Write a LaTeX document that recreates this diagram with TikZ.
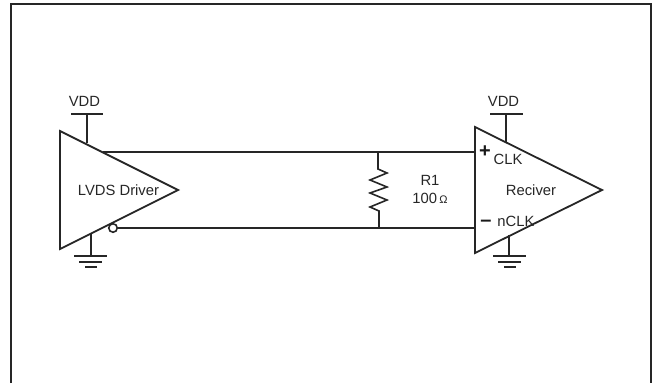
\documentclass[tikz,border=0pt]{standalone}
\usepackage{fontspec}
\setmainfont{Liberation Sans}
\tikzset{
  wire/.style={line width=1.8pt,draw=black!85,line join=miter},
  thin wire/.style={line width=1.6pt,draw=black!85},
  lbl/.style={inner sep=0pt,font=\fontsize{14.8}{16}\selectfont,text=black!85},
  sign/.style={inner sep=0pt,font=\fontsize{20}{20}\selectfont\bfseries,text=black!90},
  amp/.style={wire}
}
\begin{document}
\begin{tikzpicture}[x=1pt,y=-1pt]
\useasboundingbox (0,0) rectangle (652,383);
% frame
\coordinate (fbl) at (11,383);
\coordinate (ftl) at (11,4);
\coordinate (ftr) at (651,4);
\coordinate (fbr) at (651,383);
\draw[line width=2pt,draw=black!85] (fbl) -- (ftl) -- (ftr) -- (fbr);
% driver
\coordinate (d1) at (60,131);
\coordinate (d2) at (178,190);
\coordinate (d3) at (60,249);
\draw[amp] (d1) -- (d2) -- (d3) -- cycle;
\node[lbl] (dlabel) at (118.5,190) {LVDS Driver};
\node[lbl] (dvdd) at (84.5,101) {VDD};
\coordinate (dv1) at (71,114);
\coordinate (dv2) at (103,114);
\coordinate (dvm) at (87,114);
\coordinate (dvb) at (87,143);
\draw[thin wire] (dv1) -- (dv2) (dvm) -- (dvb);
\coordinate (dg) at (91,234);
\coordinate (dgm) at (91,256);
\draw[thin wire] (dg) -- (dgm);
\draw[thin wire] (74,256) -- (107,256) (79,262) -- (102,262) (85,267) -- (97,267);
\node[draw=black!85,line width=1.6pt,circle,minimum size=8.5pt,inner sep=0pt,fill=white] (bub) at (113,228) {};
% receiver
\coordinate (r1) at (475,127);
\coordinate (r2) at (602,190);
\coordinate (r3) at (475,253);
\draw[amp] (r1) -- (r2) -- (r3) -- cycle;
\node[lbl] (rlabel) at (531,190) {Reciver};
\node[lbl] (rclk) at (508,159.5) {CLK};
\node[lbl] (rnclk) at (516,221) {nCLK};
\node[sign] (plus) at (485,152) {+};
\node[sign] (minus) at (486,223) {–};
\node[lbl] (rvdd) at (503.5,101) {VDD};
\coordinate (rv1) at (490,114);
\coordinate (rv2) at (523,114);
\coordinate (rvm) at (506,114);
\coordinate (rvb) at (506,142);
\draw[thin wire] (rv1) -- (rv2) (rvm) -- (rvb);
\coordinate (rg) at (509,235);
\coordinate (rgm) at (509,256);
\draw[thin wire] (rg) -- (rgm);
\draw[thin wire] (493,256) -- (526,256) (498,262) -- (521,262) (504,267) -- (516,267);
% lines
\coordinate (dtop) at (103,152);
\coordinate (rtop) at (475,152);
\coordinate (rbot) at (475,228);
\coordinate (jt) at (378,152);
\coordinate (jb) at (379,228);
\draw[thin wire] (dtop) -- (rtop);
\draw[thin wire] (bub.east) -- (rbot);
\draw[thin wire,line join=miter] (jt) -- (378,169) -- (387,173) -- (370,180) -- (387,187) -- (370,193) -- (387,200) -- (370,207) -- (379,211) -- (jb);
\node[lbl] (rname) at (430,180) {R1};
\node[lbl,anchor=base] (rval) at (430,203) {100\,{\fontsize{11}{11}\selectfont Ω}};
\end{tikzpicture}
\end{document}
